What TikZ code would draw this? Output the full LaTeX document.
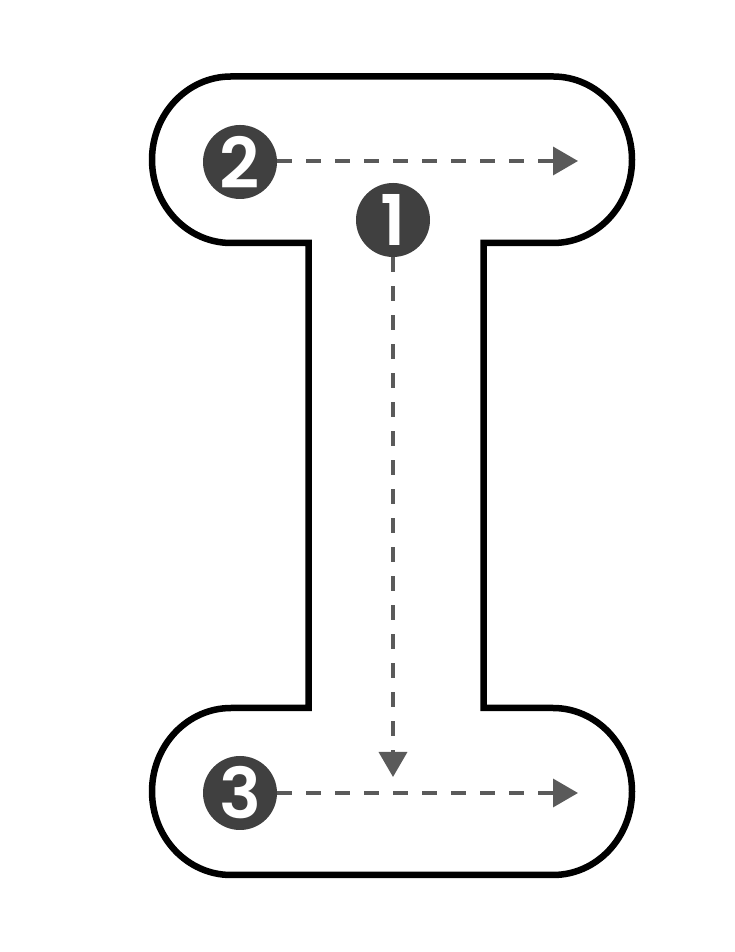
\documentclass[tikz,border=0pt]{standalone}
\usepackage{fontspec}
\newfontfamily\digitfont{Poppins SemiBold}
\usetikzlibrary{arrows.meta}
\definecolor{discfill}{HTML}{404040}
\definecolor{dashgray}{HTML}{5A5A5A}
\begin{document}
\begin{tikzpicture}[x=1pt,y=1pt,
  disc/.style={circle,fill=discfill,minimum size=74pt,inner sep=0pt,text=white,font=\digitfont\fontsize{70}{70}\selectfont},
  flow/.style={draw=dashgray,line width=3.5pt,dash pattern=on 15pt off 14pt,-{Triangle[length=25pt,width=28pt,fill=dashgray]}},
  outline/.style={draw=black,line width=6.5pt,line join=miter,fill=white}]
\useasboundingbox (0,0) rectangle (735,952);
\path[outline] (231,875.5) -- (553,875.5)
  arc[start angle=90,end angle=-90,x radius=79pt,y radius=83.25pt] -- (483.5,709) -- (483.5,244) -- (553,244)
  arc[start angle=90,end angle=-90,x radius=79pt,y radius=83.5pt] -- (231,77)
  arc[start angle=270,end angle=90,x radius=79pt,y radius=83.5pt] -- (308.5,244) -- (308.5,709) -- (231,709)
  arc[start angle=270,end angle=90,x radius=79pt,y radius=83.25pt] -- cycle;
\node[disc] (c2) at (240,790) {2};
\node[disc] (c1) at (393,732) {1};
\node[disc] (c3) at (240,159) {3};
\coordinate (t2) at (578,791);
\coordinate (t1) at (393,175);
\coordinate (t3) at (578,159);
\draw[flow] (c2.east |- t2) -- (t2);
\draw[flow] (c1.south) -- (t1);
\draw[flow] (c3.east) -- (t3);
\end{tikzpicture}
\end{document}
